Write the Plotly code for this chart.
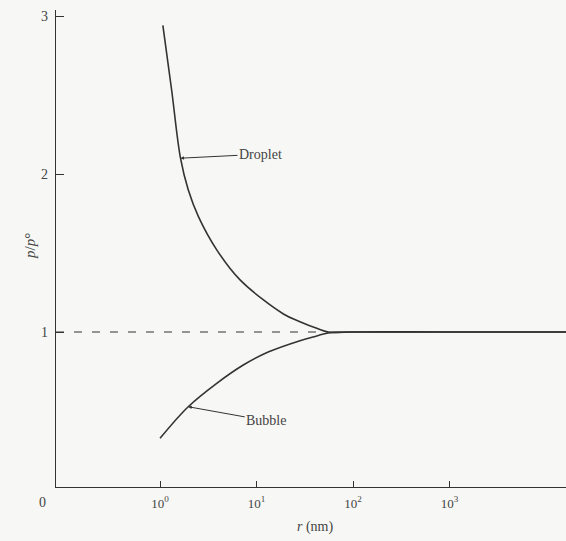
import math
import plotly.graph_objects as go

# ---- data ----
droplet_r = [1.07, 1.32, 1.63, 1.96, 2.50, 3.87, 6.75, 19.0, 28.2, 42.1, 55.5, 100, 1000, 20000]
droplet_p = [2.94, 2.53, 2.10, 1.90, 1.73, 1.52, 1.33, 1.114, 1.065, 1.023, 1.00, 1.00, 1.00, 1.00]

bubble_r = [1.0, 1.96, 3.87, 7.29, 13.2, 28.2, 42.1, 55.1, 100, 1000, 20000]
bubble_p = [0.327, 0.527, 0.675, 0.791, 0.873, 0.945, 0.975, 0.994, 1.00, 1.00, 1.00]

flat_r = [0.0835, 55]
flat_p = [1.0, 1.0]

x_tickvals = [1, 10, 100, 1000]
x_ticktext = ["10<sup>0</sup>", "10<sup>1</sup>", "10<sup>2</sup>", "10<sup>3</sup>"]
y_tickvals = [1, 2, 3]
y_ticktext = ["1", "2", "3"]

INK = "#333333"
TXT = "#444444"
BG = "#f7f7f5"
FONT = "Liberation Serif"

W, H = 566, 541
L, R, T, B = 56, 0, 10, 54

fig = go.Figure()
fig.add_trace(go.Scatter(x=flat_r, y=flat_p, mode="lines",
                         line=dict(color=INK, width=1.2, dash="8px,10px"),
                         hoverinfo="skip", showlegend=False))
fig.add_trace(go.Scatter(x=droplet_r, y=droplet_p, mode="lines",
                         line=dict(color=INK, width=1.6, shape="spline", smoothing=1.0),
                         name="Droplet", showlegend=False))
fig.add_trace(go.Scatter(x=bubble_r, y=bubble_p, mode="lines",
                         line=dict(color=INK, width=1.6, shape="spline", smoothing=1.0),
                         name="Bubble", showlegend=False))

pw, ph = W - L - R, H - T - B


def px2paper(px, py):
    return (px - L) / pw, (H - B - py) / ph


def pix_ann(px, py, text, size=14, angle=0):
    x, y = px2paper(px, py)
    return dict(x=x, y=y, xref="paper", yref="paper", text=text, showarrow=False,
                xanchor="center", yanchor="middle", textangle=angle,
                font=dict(family=FONT, size=size, color=TXT))


fig.update_layout(
    width=W, height=H,
    margin=dict(l=L, r=R, t=T, b=B),
    paper_bgcolor=BG, plot_bgcolor=BG,
    font=dict(family=FONT, color=TXT, size=13),
    xaxis=dict(type="log", range=[-1.078, 4.207], tickvals=x_tickvals, ticktext=x_ticktext,
               ticks="inside", ticklen=6, tickcolor=INK, showgrid=False, zeroline=False,
               showline=True, linecolor=INK, linewidth=1.2, ticklabelstandoff=4,
               tickfont=dict(family=FONT, size=13, color=TXT)),
    yaxis=dict(range=[0.019, 3.038], tickvals=y_tickvals, ticktext=y_ticktext,
               ticks="inside", ticklen=8, tickcolor=INK, showgrid=False, zeroline=False,
               showline=True, linecolor=INK, linewidth=1.2, ticklabelstandoff=4,
               tickfont=dict(family=FONT, size=14, color=TXT)),
    annotations=[
        dict(x=math.log10(1.63), y=2.10, xref="x", yref="y", text="Droplet",
             showarrow=True, arrowhead=2, arrowsize=0.7, arrowwidth=1, arrowcolor=INK,
             ax=80, ay=-4, font=dict(family=FONT, size=14, color=TXT)),
        dict(x=math.log10(1.96), y=0.527, xref="x", yref="y", text="Bubble",
             showarrow=True, arrowhead=2, arrowsize=0.7, arrowwidth=1, arrowcolor=INK,
             ax=78, ay=14, font=dict(family=FONT, size=14, color=TXT)),
        pix_ann(42, 503, "0", size=14),
        pix_ann(30, 246, "<i>p</i>/<i>p</i>°", size=15, angle=-90),
        pix_ann(315, 527, "<i>r</i> (nm)", size=14),
    ],
)

fig.write_html("out.html", config={"displayModeBar": False},
               post_script="document.body.style.margin='0';document.body.style.overflow='hidden';")
